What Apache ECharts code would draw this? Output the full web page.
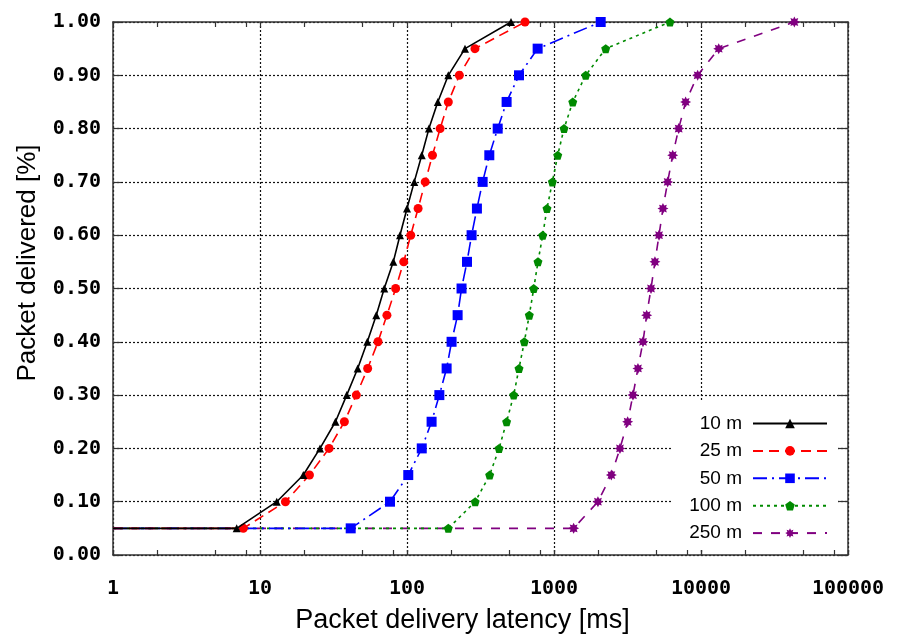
<!DOCTYPE html>
<html>
<head>
<meta charset="utf-8">
<script src="https://cdn.jsdelivr.net/npm/echarts@6/dist/echarts.min.js"></script>
<style>html,body{margin:0;padding:0;background:#fff;}#c{width:899px;height:639px;}</style>
</head>
<body>
<div id="c"></div>
<script>
// delivered fraction levels (y)
const levels = [0.05,0.10,0.15,0.20,0.25,0.30,0.35,0.40,0.45,0.50,0.55,0.60,0.65,0.70,0.75,0.80,0.85,0.90,0.95,1.00];
// latency in ms for each level (x)
const lat10  = [6.94,13.0,19.7,25.6,32.6,38.9,46.2,53.7,61.8,70,80.7,89.6,100,112,126,141,162,191,248,510];
const lat25  = [7.7,14.9,21.7,29.5,37.5,45.2,54,63.5,73,83.7,95,106,119,133,149,168,191,227,290,635];
const lat50  = [41.4,76.6,102,126,147,166,186,201,221,235,256,275,299,327,363,414,476,578,774,2078];
const lat100 = [191,291,365,423,476,532,578,628,679,728,778,838,896,975,1060,1170,1341,1643,2248,6150];
const lat250 = [1360,1990,2455,2810,3170,3444,3725,4030,4270,4570,4860,5180,5510,5930,6420,7050,7860,9490,13200,43150];
const seriesNames = ['10 m','25 m','50 m','100 m','250 m'];
const xTickLabels = [1,10,100,1000,10000,100000];
const yTickLabels = [0,0.1,0.2,0.3,0.4,0.5,0.6,0.7,0.8,0.9,1.0];
const startX = 1; // curves begin at left edge at the first level

function buildData(xs){
  const d = [{value:[startX, levels[0]], symbol:'none'}];
  xs.forEach((x,i)=>d.push([x, levels[i]]));
  return d;
}
const minorTicks = [];
for (let e=0;e<5;e++){ [1,2,5,8].forEach(m=>minorTicks.push(m*Math.pow(10,e))); }
minorTicks.push(100000);

const pentagon = 'path://M0,-10 L9.5,-3.1 L5.9,8.1 L-5.9,8.1 L-9.5,-3.1 Z';
const star = 'path://M0,-10 L2.3,-5.5 L7.1,-7.1 L5.5,-2.3 L10,0 L5.5,2.3 L7.1,7.1 L2.3,5.5 L0,10 L-2.3,5.5 L-7.1,7.1 L-5.5,2.3 L-10,0 L-5.5,-2.3 L-7.1,-7.1 L-2.3,-5.5 Z';

const styles = [
  {color:'#000000', type:'solid', symbol:'triangle', size:8},
  {color:'#ff0000', type:[10,6], symbol:'circle', size:9},
  {color:'#0000ff', type:[14,5,2,5], symbol:'rect', size:10},
  {color:'#008a00', type:[3,4], symbol:pentagon, size:9},
  {color:'#800080', type:[9,9], symbol:star, size:11}
];
const allX = [lat10, lat25, lat50, lat100, lat250];

const monoFont = {fontFamily:'DejaVu Sans Mono', fontWeight:'bold', fontSize:20, color:'#000'};
const sansFont = "'Liberation Sans', Arial, sans-serif";

const chart = echarts.init(document.getElementById('c'), null, {renderer:'canvas'});
chart.setOption({
  animation:false,
  backgroundColor:'#fff',
  grid:{left:113, right:51, top:22, bottom:83, containLabel:false},
  legend:{
    orient:'vertical', right:61, top:400, align:'right',
    backgroundColor:'#fff', padding:[14,10,6,17],
    itemWidth:74, itemHeight:12, itemGap:8.4,
    textStyle:{fontFamily:sansFont, fontSize:19, color:'#000', padding:[0,6,0,0]},
    data: seriesNames
  },
  xAxis:[{
    type:'log', logBase:10, min:1, max:100000, position:'bottom',
    name:'Packet delivery latency [ms]', nameLocation:'middle', nameGap:52,
    nameTextStyle:{fontFamily:sansFont, fontSize:27, color:'#000', padding:[0,36,0,0]},
    axisLine:{show:true, lineStyle:{color:'#333', width:1.5}},
    axisTick:{show:true, inside:true, length:5, lineStyle:{color:'#333', width:1.2}},
    axisLabel:{show:true, margin:24, formatter:v=>String(Math.round(v)), ...monoFont},
    splitLine:{show:true, lineStyle:{color:'#111', width:1.2, type:[2,2]}},
    minorTick:{show:false}
  },{
    type:'log', logBase:10, min:1, max:100000, position:'bottom',
    axisLine:{show:false},
    axisTick:{show:true, inside:true, length:5, customValues:minorTicks, lineStyle:{color:'#333', width:1.2}},
    axisLabel:{show:false}, splitLine:{show:false}
  },{
    type:'log', logBase:10, min:1, max:100000, position:'top',
    axisLine:{show:true, lineStyle:{color:'#333', width:1.5}},
    axisTick:{show:true, inside:true, length:5, customValues:minorTicks, lineStyle:{color:'#333', width:1.2}},
    axisLabel:{show:false}, splitLine:{show:false}
  }],
  yAxis:[{
    type:'value', min:0, max:1, interval:0.1, position:'left',
    name:'Packet delivered [%]', nameLocation:'middle', nameGap:72, nameRotate:90,
    nameTextStyle:{fontFamily:sansFont, fontSize:26, color:'#000', padding:[0,0,0,51]},
    axisLine:{show:true, lineStyle:{color:'#333', width:1.5}},
    axisTick:{show:true, inside:true, length:8, lineStyle:{color:'#333', width:1.2}},
    axisLabel:{show:true, margin:12, formatter:v=>v.toFixed(2), ...monoFont},
    splitLine:{show:true, lineStyle:{color:'#111', width:1.2, type:[2,2]}}
  },{
    type:'value', min:0, max:1, interval:0.1, position:'right',
    axisLine:{show:true, lineStyle:{color:'#333', width:1.5}},
    axisTick:{show:true, inside:true, length:10, lineStyle:{color:'#333', width:1.2}},
    axisLabel:{show:false}, splitLine:{show:false}
  }],
  series: seriesNames.map((n,i)=>({
    name:n, type:'line', xAxisIndex:0, yAxisIndex:0,
    data: buildData(allX[i]),
    symbol: styles[i].symbol, symbolSize: styles[i].size,
    lineStyle:{color:styles[i].color, width:1.6, type:styles[i].type},
    itemStyle:{color:styles[i].color},
    z: 10-i
  }))
});
</script>
</body>
</html>
